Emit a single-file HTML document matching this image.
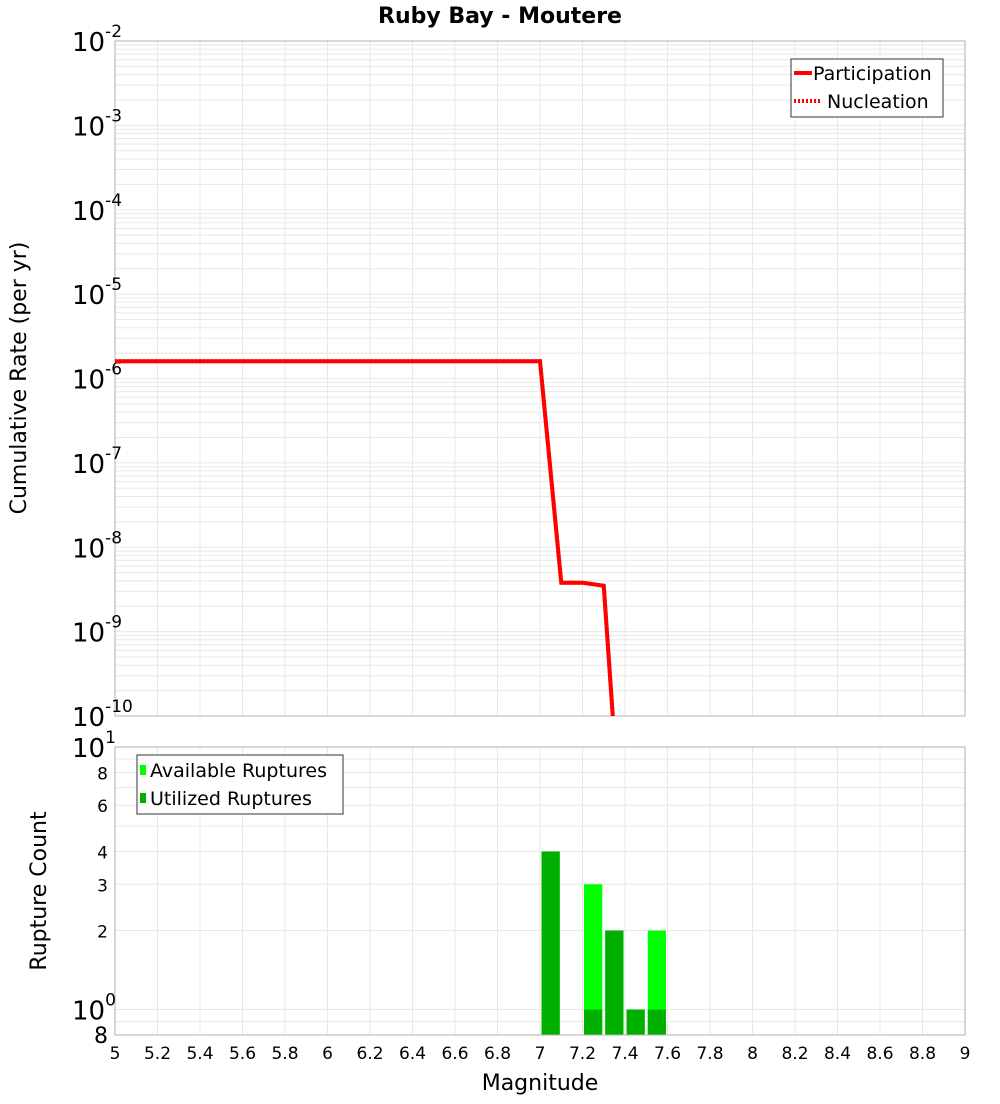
<!DOCTYPE html>
<html><head><meta charset="utf-8"><style>
body{margin:0;background:#fff;font-family:"DejaVu Sans","Liberation Sans",sans-serif;}
svg text{font-family:"DejaVu Sans","Liberation Sans",sans-serif;}
</style></head><body>
<svg id="c" width="1000" height="1100" xmlns="http://www.w3.org/2000/svg">
<rect width="1000" height="1100" fill="#fff"/>
<text x="500" y="23" text-anchor="middle" font-size="22" font-weight="bold">Ruby Bay - Moutere</text>
<g id="topg"></g><g id="botg"></g>
<text transform="translate(26,378) rotate(-90)" text-anchor="middle" font-size="22">Cumulative Rate (per yr)</text>
<text transform="translate(46,891) rotate(-90)" text-anchor="middle" font-size="22">Rupture Count</text>
<text x="540" y="1090" text-anchor="middle" font-size="22">Magnitude</text>
</svg>
<script>
const partMags=[5,7,7.1,7.2,7.3,7.4];
const partRates=[1.6e-6,1.6e-6,3.8e-9,3.8e-9,3.5e-9,8e-13];
const nuclRates=[1.6e-6,1.6e-6,3.8e-9,3.8e-9,3.5e-9,8e-13];
const binMags=[7.05,7.25,7.35,7.45,7.55];
const availCounts=[4,3,2,1,2];
const usedCounts=[4,1,2,1,1];
const xTicks=[5,5.2,5.4,5.6,5.8,6,6.2,6.4,6.6,6.8,7,7.2,7.4,7.6,7.8,8,8.2,8.4,8.6,8.8,9];
const topExps=[-10,-9,-8,-7,-6,-5,-4,-3,-2];

const NS="http://www.w3.org/2000/svg";
const L=115,R=965,T1=41,B1=716,T2=747,B2=1035;
const X=m=>L+(m-5)/4*(R-L);
const Y1=v=>B1-(Math.log10(v)+10)/8*(B1-T1);
const Y2=v=>B2-Math.log10(v/0.8)/Math.log10(12.5)*(B2-T2);
function el(p,t,a){const e=document.createElementNS(NS,t);for(const k in a)e.setAttribute(k,a[k]);p.appendChild(e);return e;}
const topG=document.getElementById('topg'),botG=document.getElementById('botg');

for(let e=-10;e<-2;e++)for(let k=1;k<10;k++){const y=Y1(k*Math.pow(10,e));
 const g=el(topG,'line',{x1:L,x2:R,y1:y,y2:y,stroke:'#e8e8e8','stroke-width':1});
 
 }
xTicks.forEach(m=>{const g=el(topG,'line',{x1:X(m),x2:X(m),y1:T1,y2:B1,stroke:'#e8e8e8'});
 
 
 const g2=el(botG,'line',{x1:X(m),x2:X(m),y1:T2,y2:B2,stroke:'#e8e8e8'});
 
 });
const fr=el(topG,'rect',{x:L,y:T1,width:R-L,height:B1-T1,fill:'none',stroke:'#b0b0b0'});


topExps.forEach(e=>{const y=Y1(Math.pow(10,e));
 const t=el(topG,'text',{x:72,y:y+10,'font-size':26});
 
 
 t.textContent='10';
 const s=el(t,'tspan',{dy:-14,'font-size':17});s.textContent=String(e);});
const clip=el(topG,'clipPath',{id:'cp'});el(clip,'rect',{x:L,y:T1,width:R-L,height:B1-T1});
const pd=partMags.map((m,i)=>(i?'L':'M')+X(m)+','+Y1(partRates[i])).join('');
const nd=partMags.map((m,i)=>(i?'L':'M')+X(m)+','+Y1(nuclRates[i])).join('');
const pl=el(topG,'path',{d:pd,fill:'none',stroke:'#ff0000','stroke-width':4,'clip-path':'url(#cp)'});


const nl=el(topG,'path',{d:nd,fill:'none',stroke:'#ff0000','stroke-width':4,'stroke-dasharray':'2,2','clip-path':'url(#cp)'});


const lg=el(topG,'g',{});


el(lg,'rect',{x:791,y:59,width:152,height:58,fill:'#fff',stroke:'#333'});
el(lg,'line',{x1:794,x2:812,y1:73,y2:73,stroke:'#f00','stroke-width':4});
el(lg,'line',{x1:794,x2:820,y1:101,y2:101,stroke:'#f00','stroke-width':4,'stroke-dasharray':'2,2'});
let t=el(lg,'text',{x:813,y:80,'font-size':19});t.textContent='Participation';
t=el(lg,'text',{x:827,y:108,'font-size':19});t.textContent='Nucleation';

[0.9,1,2,3,4,5,6,7,8,9,10].forEach(v=>{const y=Y2(v);
 const g=el(botG,'line',{x1:L,x2:R,y1:y,y2:y,stroke:'#e8e8e8'});
 
 });
binMags.forEach((m,i)=>{const x=X(m-0.05)+1.5,w=X(m+0.05)-X(m-0.05)-3;
 const a=el(botG,'rect',{x:x,y:Y2(availCounts[i]),width:w,height:B2-Y2(availCounts[i]),fill:'#00ff00'});
 
 
 const u=el(botG,'rect',{x:x,y:Y2(usedCounts[i]),width:w,height:B2-Y2(usedCounts[i]),fill:'#00b000'});
 
 });
const fr2=el(botG,'rect',{x:L,y:T2,width:R-L,height:B2-T2,fill:'none',stroke:'#b0b0b0'});


[[2,'2'],[3,'3'],[4,'4'],[6,'6'],[8,'8']].forEach(([v,s])=>{const tt=el(botG,'text',{x:108,y:Y2(v)+7,'font-size':17,'text-anchor':'end'});
 
 
 tt.textContent=s;});
let b=el(botG,'text',{x:72,y:Y2(10)+10,'font-size':26});b.textContent='10';
let sp=el(b,'tspan',{dy:-14,'font-size':17});sp.textContent='1';
b=el(botG,'text',{x:72,y:Y2(1)+10,'font-size':26});b.textContent='10';
sp=el(b,'tspan',{dy:-14,'font-size':17});sp.textContent='0';
b=el(botG,'text',{x:108,y:B2+8,'font-size':22,'text-anchor':'end'});b.textContent='8';
const bl=el(botG,'g',{});


el(bl,'rect',{x:137,y:755,width:206,height:59,fill:'#fff',stroke:'#333'});
el(bl,'rect',{x:140,y:765,width:6,height:10,fill:'#00ff00'});
el(bl,'rect',{x:140,y:793,width:6,height:10,fill:'#00b000'});
t=el(bl,'text',{x:150,y:777,'font-size':19});t.textContent='Available Ruptures';
t=el(bl,'text',{x:150,y:805,'font-size':19});t.textContent='Utilized Ruptures';
xTicks.forEach(m=>{const tt=el(botG,'text',{x:X(m),y:1059,'font-size':17,'text-anchor':'middle'});
 
 
 tt.textContent=String(m);});
</script>
</body></html>
